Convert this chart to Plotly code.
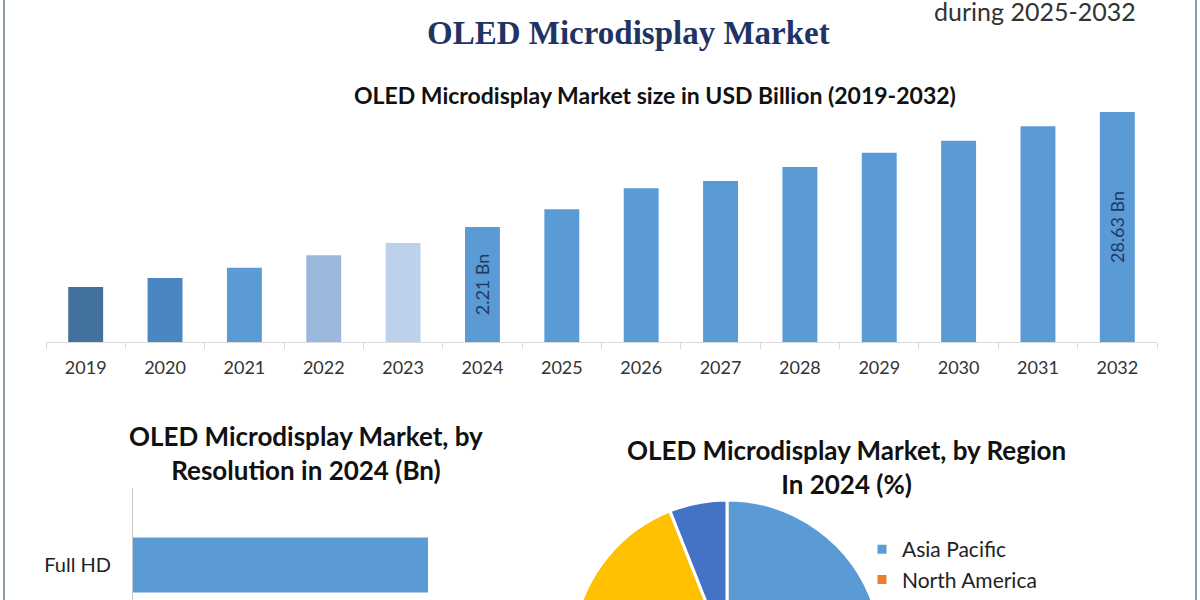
import plotly.graph_objects as go

# ---------------- data ----------------
years = ["2019", "2020", "2021", "2022", "2023", "2024", "2025",
         "2026", "2027", "2028", "2029", "2030", "2031", "2032"]
market_size = [6.85, 7.97, 9.25, 10.79, 12.32, 14.32, 16.52,
               19.13, 20.04, 21.78, 23.56, 25.06, 26.85, 28.63]
bar_labels = ["", "", "", "", "", "2.21 Bn", "", "", "", "", "", "", "", "28.63 Bn"]
bar_colors = ["#41719c", "#4a86c2", "#5b9bd5", "#9ab7de", "#bdd1ea", "#5b9bd5", "#5b9bd5",
              "#5b9bd5", "#5b9bd5", "#5b9bd5", "#5b9bd5", "#5b9bd5", "#5b9bd5", "#5b9bd5"]

resolutions = ["Full HD"]
resolution_values = [1.2]

regions = ["Asia Pacific", "North America", "Europe", "Middle East & Africa", "South America"]
region_share = [40, 25, 13, 16, 6]
region_colors = ["#5b9bd5", "#ed7d31", "#a5a5a5", "#ffc000", "#4472c4"]

# ---------------- layout geometry ----------------
W, H = 1200, 820          # page taller than the 600px window; lower part falls below view
def py(px):               # pixel (from top) -> paper y
    return 1 - px / H
def pxx(px):
    return px / W

FONT = "Lato"
fig = go.Figure()

fig.add_trace(go.Bar(
    x=years, y=market_size, marker=dict(color=bar_colors, line=dict(width=0)),
    width=0.44, text=bar_labels, textposition="inside", textangle=-90,
    insidetextanchor="middle", textfont=dict(family=FONT, size=18, color="#1f3864"),
    xaxis="x", yaxis="y", showlegend=False, cliponaxis=False,
))

fig.add_trace(go.Bar(
    y=resolutions, x=resolution_values, orientation="h", width=0.6,
    marker=dict(color="#5b9bd5", line=dict(width=0)),
    xaxis="x2", yaxis="y2", showlegend=False,
))

fig.add_trace(go.Pie(
    labels=regions, values=region_share, sort=False, direction="clockwise",
    marker=dict(colors=region_colors, line=dict(color="white", width=3)),
    textinfo="none", domain=dict(x=[pxx(572), pxx(882)], y=[py(810), py(500)]),
    showlegend=True,
))

fig.update_layout(
    width=W, height=H, margin=dict(l=0, r=0, t=0, b=0),
    paper_bgcolor="white", plot_bgcolor="white",
    font=dict(family=FONT, color="#222222"),
    xaxis=dict(domain=[pxx(46), pxx(1157)], showgrid=False, showline=True,
               linecolor="#d9d9d9", linewidth=1, ticks="outside", tickson="boundaries",
               ticklen=6, tickcolor="#d9d9d9", tickfont=dict(family=FONT, size=18, color="#333333"),
               ticklabelstandoff=9, anchor="y", fixedrange=True),
    yaxis=dict(domain=[py(342), py(100)], range=[0, 28.63 * 242 / 230], visible=False,
               anchor="x", fixedrange=True),
    xaxis2=dict(domain=[pxx(133), pxx(520)], range=[0, 1.2 * 387 / 295], visible=False,
                anchor="y2"),
    yaxis2=dict(domain=[py(820), py(488)], range=[(820 - 565) / 92, -(565 - 488) / 92],
                showline=True, linecolor="#c8c8c8", linewidth=1, showgrid=False,
                ticks="", tickfont=dict(family=FONT, size=20, color="#222222"),
                anchor="x2", ticklabelstandoff=17),
    legend=dict(x=pxx(862), y=py(529), xanchor="left", yanchor="top",
                font=dict(family=FONT, size=21, color="#222222"), itemwidth=30,
                bgcolor="rgba(0,0,0,0)", tracegroupgap=0),
    bargap=0.56,
)

annotations = [
    dict(text="<b>OLED Microdisplay Market</b>", x=pxx(628), y=py(33), xref="paper", yref="paper",
         showarrow=False, font=dict(family="Liberation Serif", size=33, color="#1f3464"),
         xanchor="center", yanchor="middle"),
    dict(text="during 2025-2032", x=pxx(1035), y=py(11), xref="paper", yref="paper",
         showarrow=False, font=dict(family=FONT, size=25, color="#333333"),
         xanchor="center", yanchor="middle"),
    dict(text="<b>OLED Microdisplay Market size in USD Billion (2019-2032)</b>", x=pxx(655), y=py(95),
         xref="paper", yref="paper", showarrow=False,
         font=dict(family=FONT, size=23, color="#111111"), xanchor="center", yanchor="middle"),
    dict(text="<b>OLED Microdisplay Market, by<br>Resolution in 2024 (Bn)</b>", x=pxx(306), y=py(453),
         xref="paper", yref="paper", showarrow=False, align="center",
         font=dict(family=FONT, size=26, color="#111111"), xanchor="center", yanchor="middle"),
    dict(text="<b>OLED Microdisplay Market, by Region<br>In 2024 (%)</b>", x=pxx(846), y=py(467),
         xref="paper", yref="paper", showarrow=False, align="center",
         font=dict(family=FONT, size=26, color="#111111"), xanchor="center", yanchor="middle"),
]
fig.update_layout(annotations=annotations)

# page frame
fig.add_shape(type="rect", xref="paper", yref="paper", x0=pxx(4), x1=pxx(1196), y0=0, y1=1.2,
              line=dict(color="#8c9ca8", width=2), fillcolor="rgba(0,0,0,0)", layer="below")

fig.write_html("out.html", include_plotlyjs=True, config={"displayModeBar": False},
               post_script="document.body.style.margin='0';document.body.style.overflow='hidden';")
